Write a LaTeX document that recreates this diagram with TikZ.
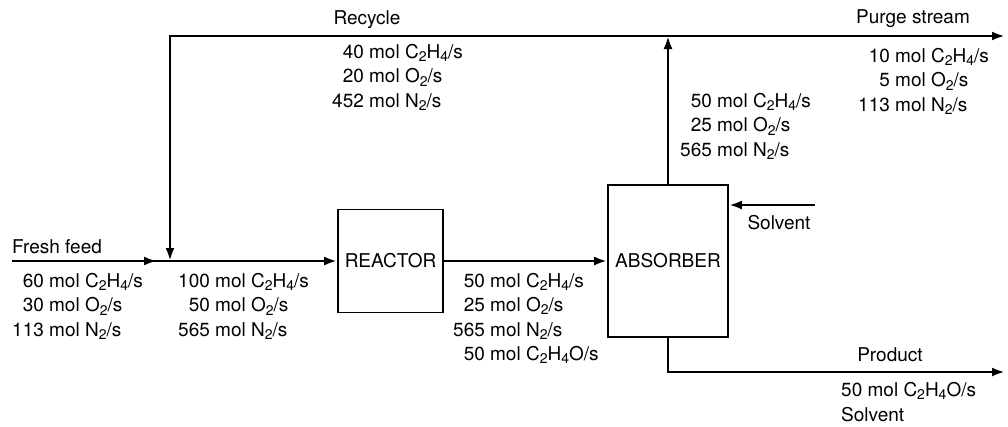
\documentclass[tikz,border=0pt]{standalone}
\usepackage{fontspec}
\setmainfont{TeX Gyre Heros}
\usetikzlibrary{arrows.meta}
\newcommand{\ssb}[1]{\raisebox{-0.32ex}{\fontsize{14}{14}\selectfont #1}}
\begin{document}
\begin{tikzpicture}[x=1pt,y=-1pt,
  every node/.style={font=\fontsize{19}{24.5}\selectfont, inner sep=0pt},
  flow/.style={line width=2.8pt, line join=miter},
  arr/.style={flow,-{Latex[length=13pt,width=9pt]}},
  unit/.style={draw, line width=1.8pt},
  blk/.style={anchor=west},
  lbl/.style={}]
\useasboundingbox (0,0) rectangle (1008,426);
% units
\node[unit, minimum width=105pt, minimum height=103pt] (reactor) at (390.5,261) {REACTOR};
\node[unit, minimum width=120pt, minimum height=152pt] (absorber) at (668,261) {ABSORBER};
% coordinates
\coordinate (feed) at (12,261);
\coordinate (J) at (170,261);
\coordinate (TL) at (170,36);
\coordinate (TJ) at (668,36);
\coordinate (purge) at (1005,36);
\coordinate (solv) at (815,205);
\coordinate (PB) at (668,372);
\coordinate (prod) at (1005,372);
% streams
\draw[flow] (feed) -- (J);
\draw[arr] (feed) -- ([xshift=-13pt]J);
\draw[arr] (J) -- (reactor.west);
\draw[arr] (reactor.east) -- (absorber.west);
\draw[arr] (absorber.north) -- (TJ);
\draw[arr] (TJ) -- (TL) -- (J);
\draw[arr] (TJ) -- (purge);
\draw[arr] (solv) -- (absorber.east |- solv);
\draw[arr] (absorber.south) -- (PB) -- (prod);
% labels
\node[lbl] (lrecycle) at (367,20) {Recycle};
\node[lbl] (lpurge) at (913,19) {Purge stream};
\node[lbl, anchor=west] (lfeed) at (12,247) {Fresh feed};
\node[lbl] (lprod) at (890,355) {Product};
\node[lbl] (lsolv) at (779,223) {Solvent};
% compositions
\node[blk] (crecycle) at (332,78) {\begin{tabular}{@{}r@{ }l@{}}40 & mol C\ssb2H\ssb4/s\\ 20 & mol O\ssb2/s\\ 452 & mol N\ssb2/s\end{tabular}};
\node[blk] (cabs) at (680,127) {\begin{tabular}{@{}r@{ }l@{}}50 & mol C\ssb2H\ssb4/s\\ 25 & mol O\ssb2/s\\ 565 & mol N\ssb2/s\end{tabular}};
\node[blk] (cpurge) at (858,82) {\begin{tabular}{@{}r@{ }l@{}}10 & mol C\ssb2H\ssb4/s\\ 5 & mol O\ssb2/s\\ 113 & mol N\ssb2/s\end{tabular}};
\node[blk] (cfeed) at (12,307) {\begin{tabular}{@{}r@{ }l@{}}60 & mol C\ssb2H\ssb4/s\\ 30 & mol O\ssb2/s\\ 113 & mol N\ssb2/s\end{tabular}};
\node[blk] (cmix) at (178,307) {\begin{tabular}{@{}r@{ }l@{}}100 & mol C\ssb2H\ssb4/s\\ 50 & mol O\ssb2/s\\ 565 & mol N\ssb2/s\end{tabular}};
\node[blk] (creact) at (453,319) {\begin{tabular}{@{}r@{ }l@{}}50 & mol C\ssb2H\ssb4/s\\ 25 & mol O\ssb2/s\\ 565 & mol N\ssb2/s\\ 50 & mol C\ssb2H\ssb4O/s\end{tabular}};
\node[blk] (cprod) at (841,404) {\begin{tabular}{@{}l@{}}50 mol C\ssb2H\ssb4O/s\\ Solvent\end{tabular}};
\end{tikzpicture}
\end{document}
